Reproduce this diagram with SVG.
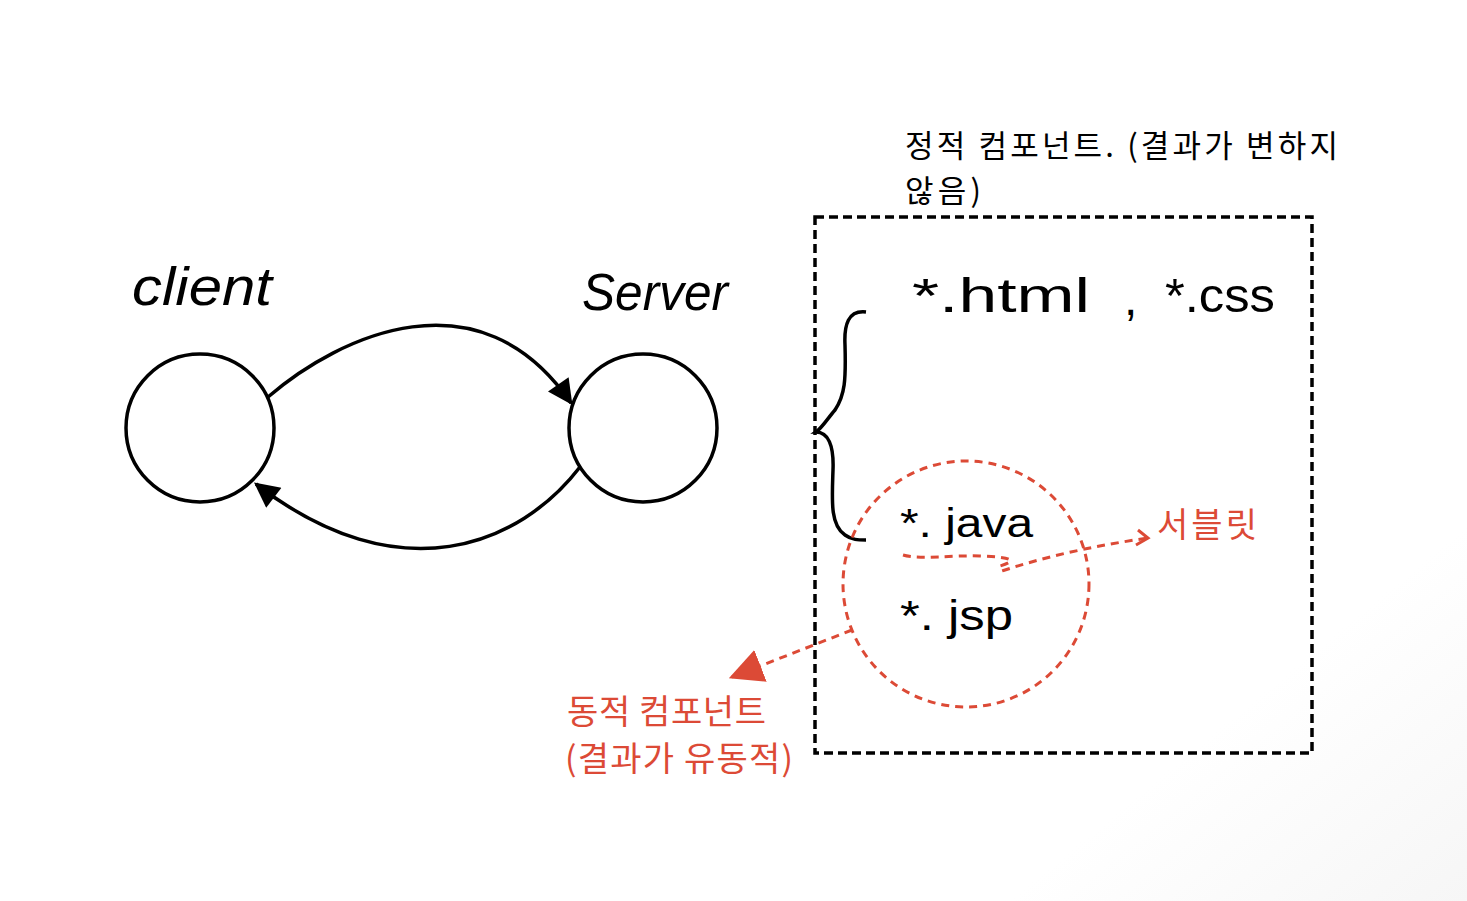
<svg xmlns="http://www.w3.org/2000/svg" width="1467" height="901" viewBox="0 0 1467 901">
<defs>
<style>
.node{fill:#fff;stroke:#000;stroke-width:3.5}
.edge{fill:none;stroke:#000;stroke-width:3.5}
.hand{font-family:"Liberation Sans","DejaVu Sans",sans-serif;fill:#000}
.kr{font-family:"Noto Sans CJK KR","Noto Sans",sans-serif;font-size:34px}
.title{font-size:31px}
.red{fill:#dc4a36}
.rdash{fill:none;stroke:#dc4a36;stroke-width:3;stroke-dasharray:8 6}
</style>
<marker id="ah" viewBox="0 0 10 10" refX="9" refY="5" markerWidth="27" markerHeight="25" orient="auto" markerUnits="userSpaceOnUse">
<path d="M0,0 L10,5 L0,10 z" fill="#000"/>
</marker>
<marker id="rah" viewBox="0 0 10 10" refX="9" refY="5" markerWidth="34" markerHeight="34" orient="auto" markerUnits="userSpaceOnUse">
<path d="M0,0 L10,5 L0,10 z" fill="#dc4a36"/>
</marker>
<linearGradient id="bg" x1="0.8" y1="0.85" x2="1" y2="1">
<stop offset="0" stop-color="#fff"/><stop offset="1" stop-color="#f6f6f6"/>
</linearGradient>
</defs>
<rect width="1467" height="901" fill="url(#bg)"/>

<g id="connectors">
<path class="edge" d="M268,397 C340,335 480,270 571,403" marker-end="url(#ah)"/>
<path class="edge" d="M580,467 C520,545 400,595 256,484" marker-end="url(#ah)"/>
<path d="M852,630 L732,677" class="rdash" marker-end="url(#rah)"/>
<path d="M903,555 C920,560 950,555 980,556 C1010,557 1020,560 1000,566 L1002,571 C1050,555 1100,545 1148,538" class="rdash"/>
<path d="M1138,530 L1148,538 L1136,545" fill="none" stroke="#dc4a36" stroke-width="3"/>
</g>

<g id="client">
<circle class="node" cx="200" cy="428" r="74"/>
<text class="hand" x="132" y="305" font-size="54" font-style="italic" textLength="140" lengthAdjust="spacingAndGlyphs">client</text>
</g>

<g id="server">
<circle class="node" cx="643" cy="428" r="74"/>
<text class="hand" x="582" y="310" font-size="52" font-style="italic" textLength="146" lengthAdjust="spacingAndGlyphs">Server</text>
</g>

<g id="static-box">
<rect x="815" y="217" width="497" height="536" fill="none" stroke="#000" stroke-width="3.5" stroke-dasharray="9 5"/>
<text class="kr title" x="905" y="157" fill="#000" textLength="433">정적 컴포넌트. (결과가 변하지</text>
<text class="kr title" x="905" y="202" fill="#000" textLength="76">않음)</text>
<path d="M866,312 C848,310 844,325 845,345 C846,380 845,395 835,410 C828,418 822,428 816,432 C828,432 834,445 833,470 C832,500 830,525 845,535 C852,540 858,540 866,540" class="edge"/>
<text class="hand" x="912" y="312" font-size="48" textLength="178" lengthAdjust="spacingAndGlyphs">*.html</text>
<text class="hand" x="1124" y="315" font-size="48">,</text>
<text class="hand" x="1165" y="312" font-size="48" textLength="110" lengthAdjust="spacingAndGlyphs">*.css</text>
</g>

<g id="dynamic">
<circle cx="966" cy="584" r="123" class="rdash"/>
<text class="hand" x="900" y="537" font-size="40" textLength="133" lengthAdjust="spacingAndGlyphs">*. java</text>
<text class="hand" x="900" y="630" font-size="42" textLength="113" lengthAdjust="spacingAndGlyphs">*. jsp</text>
<text class="kr red" x="1157" y="537" textLength="100">서블릿</text>
<text class="kr red" x="567" y="724" textLength="199">동적 컴포넌트</text>
<text class="kr red" x="565" y="771" textLength="228">(결과가 유동적)</text>
</g>
</svg>
